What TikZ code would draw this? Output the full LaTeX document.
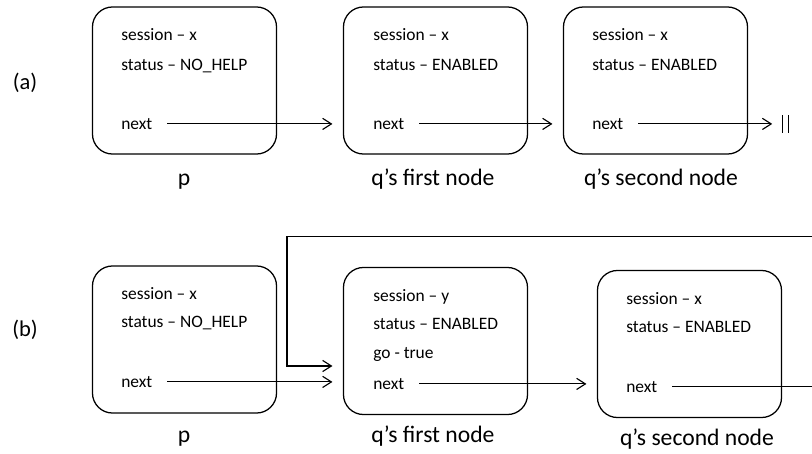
\documentclass[tikz,border=0pt]{standalone}
\usepackage{fontspec}
\setmainfont{Carlito}
\usetikzlibrary{arrows.meta, positioning, calc}
\tikzset{
  recbox/.style={
    rectangle, rounded corners=0.5cm,
    minimum width=4.6cm, minimum height=3.675cm,
    draw, line width=0.9pt, inner sep=0pt
  },
  fieldtext/.style={
    anchor=mid west, inner sep=0pt,
    font=\fontsize{12.4}{14}\selectfont
  },
  namelabel/.style={
    anchor=base, inner sep=0pt,
    font=\fontsize{16.8}{20}\selectfont
  },
  rowlabel/.style={
    inner sep=0pt, font=\fontsize{16}{19}\selectfont
  },
  nilmark/.style={
    rectangle, inner sep=0pt,
    minimum width=0.13cm, minimum height=0.43cm
  },
  myarrow/.style={line width=0.8pt, -{Straight Barb[length=2.2mm, width=2.8mm]},
    shorten <=0.37cm, shorten >=0.26cm}
}

\begin{document}
\begin{tikzpicture}[x=0.025cm, y=-0.025cm]

  \useasboundingbox (0,0) rectangle (812,454);

  %% --- Row labels ---
  \node[rowlabel] (rowa) at (25,83)  {(a)};
  \node[rowlabel] (rowb) at (25,330) {(b)};

  %% --- (a) records ---
  \node[recbox] (pa)  at (184.5,80.5) {};
  \node[recbox] (qa1) at (435.5,80.5) {};
  \node[recbox] (qa2) at (655.5,80.5) {};

  \node[fieldtext] (pa-s) at (121,37)  {session – x};
  \node[fieldtext] (pa-t) at (121,67)  {status – NO\_HELP};
  \node[fieldtext] (pa-n) at (121,126) {next};

  \node[fieldtext] (qa1-s) at (373,37)  {session – x};
  \node[fieldtext] (qa1-t) at (373,67)  {status – ENABLED};
  \node[fieldtext] (qa1-n) at (373,126) {next};

  \node[fieldtext] (qa2-s) at (592,37)  {session – x};
  \node[fieldtext] (qa2-t) at (592,67)  {status – ENABLED};
  \node[fieldtext] (qa2-n) at (592,126) {next};

  \coordinate (nilpos) at (785.5,0);
  \node[nilmark] (nil) at (qa2-n -| nilpos) {};
  \draw[line width=1.2pt] (nil.north west) -- (nil.south west);
  \draw[line width=0.7pt] (nil.north east) -- (nil.south east);

  \node[namelabel] (pa-l)  at (184,185) {p};
  \node[namelabel] (qa1-l) at (433,185) {q’s first node};
  \node[namelabel] (qa2-l) at (661,185) {q’s second node};

  %% --- (b) records ---
  \node[recbox] (pb)  at (184.5,339.5) {};
  \node[recbox] (qb1) at (435.5,341)   {};
  \node[recbox] (qb2) at (689.5,344)   {};

  \node[fieldtext] (pb-s) at (121,296) {session – x};
  \node[fieldtext] (pb-t) at (121,324) {status – NO\_HELP};
  \node[fieldtext] (pb-n) at (121,384) {next};

  \node[fieldtext] (qb1-s) at (373,298) {session – y};
  \node[fieldtext] (qb1-t) at (373,326) {status – ENABLED};
  \node[fieldtext] (qb1-g) at (373,355) {go - true};
  \node[fieldtext] (qb1-n) at (373,386) {next};

  \node[fieldtext] (qb2-s) at (626,301) {session – x};
  \node[fieldtext] (qb2-t) at (626,329) {status – ENABLED};
  \node[fieldtext] (qb2-n) at (626,389) {next};

  \node[namelabel] (pb-l)  at (184,442) {p};
  \node[namelabel] (qb1-l) at (433,442) {q’s first node};
  \node[namelabel] (qb2-l) at (697,445) {q’s second node};

  %% --- Arrows ---
  \draw[myarrow] (pa-n)  -- (pa-n -| qa1.west);
  \draw[myarrow] (qa1-n) -- (qa1-n -| qa2.west);
  \draw[myarrow] (qa2-n) -- (qa2-n -| nil.west);

  \draw[myarrow] (pb-n)  -- (pb-n -| qb1.west);
  \draw[myarrow] (qb1-n) -- (qb1-n -| qb2.west);

  %% loop back, runs off the right edge
  \coordinate (loopR)  at (830,236.5);
  \coordinate (loopL)  at (287,236.5);
  \coordinate (loopin) at ($(qb1.west)+(0,25)$);
  \draw[myarrow] (qb2-n) -- (qb2-n -| loopR) -- (loopR) -- (loopL) |- (loopin);

\end{tikzpicture}
\end{document}
